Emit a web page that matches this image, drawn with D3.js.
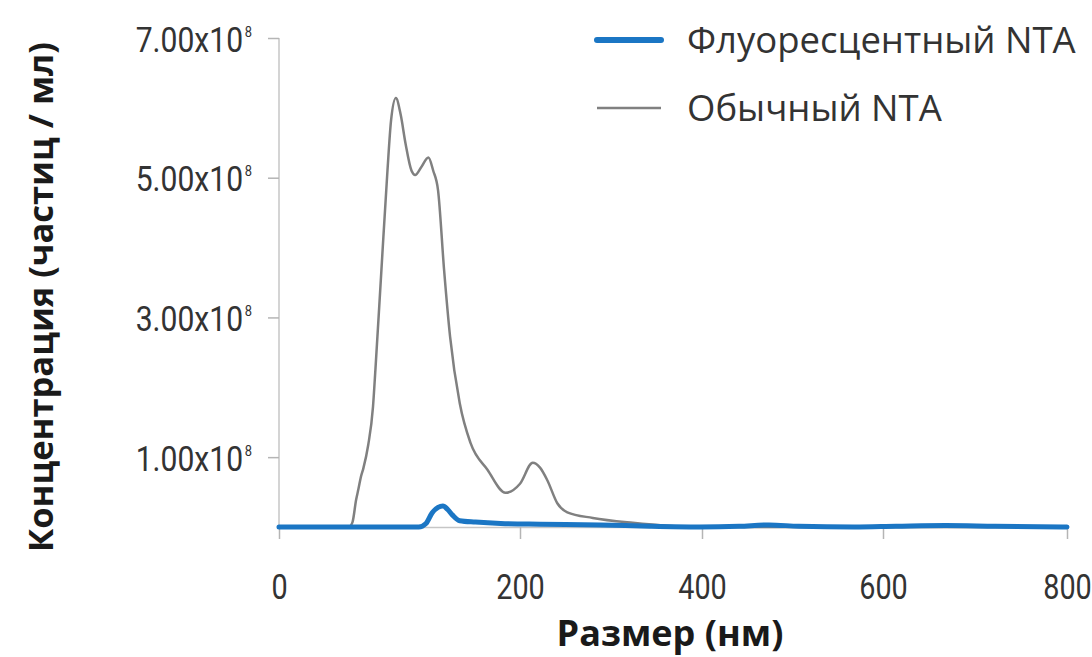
<!DOCTYPE html>
<html>
<head>
<meta charset="utf-8">
<script src="https://cdn.jsdelivr.net/npm/d3@7"></script>
<style>
  body { margin: 0; background: #fff; }
  svg { display: block; }
</style>
</head>
<body>
<div id="chart"></div>
<script>
// Размер (нм) points and concentrations (x10^8 частиц / мл)
const normalSize = [0, 40, 58, 61, 64, 66, 68, 70, 74, 78, 80, 85, 90, 93, 97, 101, 105, 110, 113, 118, 124, 128, 132, 137, 142, 150, 159, 173, 188, 200, 214, 222, 230, 241, 252, 280, 324, 375, 450, 600, 800];
const normalConc = [0, 0, 0, 0.07, 0.39, 0.55, 0.72, 0.84, 1.17, 1.72, 2.25, 3.68, 5.1, 5.82, 6.14, 5.9, 5.49, 5.1, 5.04, 5.15, 5.29, 5.1, 4.82, 3.68, 2.72, 1.77, 1.2, 0.82, 0.49, 0.62, 0.92, 0.85, 0.67, 0.34, 0.21, 0.13, 0.06, 0.01, 0, 0, 0];

const fluoSize = [0, 60, 116, 122, 127, 132, 136, 140, 144, 150, 163, 184, 222, 288, 343, 397, 441, 474, 507, 568, 614, 668, 722, 800];
const fluoConc = [0, 0, 0, 0.05, 0.2, 0.28, 0.3, 0.25, 0.17, 0.09, 0.07, 0.05, 0.04, 0.03, 0.01, 0, 0.01, 0.03, 0.01, 0, 0.01, 0.02, 0.01, 0];

const xTicks = [0, 200, 400, 600, 800];
const yTicks = [1e8, 3e8, 5e8, 7e8];

const seriesNames = ["Флуоресцентный NTA", "Обычный NTA"];
const colors = ["#1b76c4", "#808080"];

const width = 1092;
const height = 657;
const margin = {left: 279};

const svg = d3.select("#chart")
  .append("svg")
  .attr("width", width)
  .attr("height", height);

// the original axis is not evenly spaced, so use a piecewise linear scale
const xScale = d3.scaleLinear()
  .domain(xTicks)
  .range([279, 520, 702, 883, 1067]);

const yScale = d3.scaleLinear()
  .domain([0, 7e8])
  .range([527, 38]);

const numFont = "Roboto, sans-serif";
const squeeze = 0.86; // tick numbers are a condensed face in the original

// Y axis
const yAxis = d3.axisLeft(yScale)
  .tickValues(yTicks)
  .tickSizeInner(11)
  .tickSizeOuter(0)
  .tickPadding(16)
  .tickFormat(d => (d / 1e8).toFixed(2) + "x10");

const gy = svg.append("g")
  .attr("transform", `translate(${margin.left},0)`)
  .call(yAxis);
gy.select(".domain").attr("stroke", "#c6c6c6").attr("stroke-width", 1.5)
  .attr("d", `M0,${yScale(7e8)}V${yScale(0)}`);
gy.selectAll(".tick line").attr("stroke", "#b5b5b5").attr("stroke-width", 1.5);
gy.selectAll(".tick text")
  .attr("fill", "#333")
  .attr("x", -27 / squeeze)
  .attr("y", 2)
  .attr("transform", `scale(${squeeze},1)`)
  .style("font-family", numFont)
  .style("font-size", "35px")
  .append("tspan")
  .attr("dx", 2)
  .attr("dy", -15)
  .style("font-size", "15px")
  .text("8");

// X axis
const xAxis = d3.axisBottom(xScale)
  .tickValues(xTicks)
  .tickSizeInner(12)
  .tickSizeOuter(0)
  .tickPadding(34);

const gx = svg.append("g")
  .attr("transform", `translate(0,${yScale(0)})`)
  .call(xAxis);
gx.select(".domain").attr("stroke", "#c6c6c6").attr("stroke-width", 1.5);
gx.selectAll(".tick line").attr("stroke", "#b5b5b5").attr("stroke-width", 1.5);
gx.selectAll(".tick text")
  .attr("fill", "#333")
  .attr("transform", "scale(0.8,1)")
  .style("font-family", numFont)
  .style("font-size", "36px");

// Lines
const line = d3.line()
  .x(d => xScale(d[0]))
  .y(d => yScale(d[1] * 1e8))
  .curve(d3.curveMonotoneX);

svg.append("path")
  .datum(d3.zip(normalSize, normalConc))
  .attr("fill", "none")
  .attr("stroke", colors[1])
  .attr("stroke-width", 2.5)
  .attr("d", line);

svg.append("path")
  .datum(d3.zip(fluoSize, fluoConc))
  .attr("fill", "none")
  .attr("stroke", colors[0])
  .attr("stroke-width", 5)
  .attr("stroke-linecap", "round")
  .attr("d", line);

// Axis titles
svg.append("text")
  .attr("transform", `translate(53,297) rotate(-90)`)
  .attr("text-anchor", "middle")
  .attr("fill", "#1a1a1a")
  .style("font-family", "'Open Sans', sans-serif")
  .style("font-weight", "bold")
  .style("font-size", "34.5px")
  .text("Концентрация (частиц / мл)");

svg.append("text")
  .attr("x", 670)
  .attr("y", 646)
  .attr("text-anchor", "middle")
  .attr("fill", "#1a1a1a")
  .style("font-family", "'Open Sans', sans-serif")
  .style("font-weight", "bold")
  .style("font-size", "36px")
  .text("Размер (нм)");

// Legend
const legend = svg.append("g")
  .attr("transform", "translate(597,40)");

const legendRow = legend.selectAll("g")
  .data(seriesNames)
  .join("g")
  .attr("transform", (_, i) => `translate(0,${i * 68})`);

legendRow.append("line")
  .attr("x1", 0)
  .attr("x2", 64)
  .attr("stroke", (_, i) => colors[i])
  .attr("stroke-width", (_, i) => i === 0 ? 6 : 2.5)
  .attr("stroke-linecap", (_, i) => i === 0 ? "round" : "butt");

legendRow.append("text")
  .attr("x", 90)
  .attr("y", 13)
  .attr("fill", "#333")
  .style("font-family", "'Open Sans', sans-serif")
  .style("font-size", "36.5px")
  .text(d => d);
</script>
</body>
</html>
